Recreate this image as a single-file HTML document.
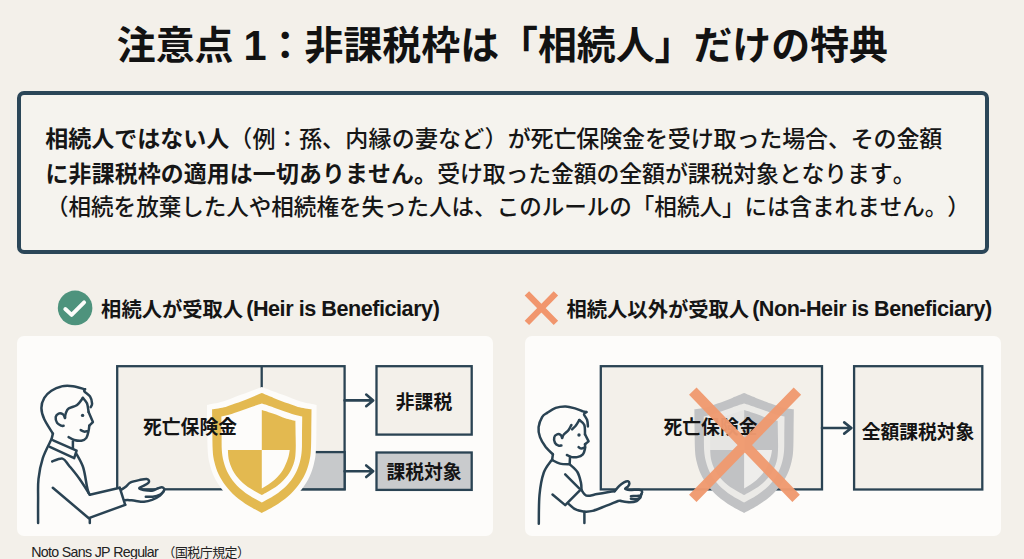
<!DOCTYPE html>
<html lang="ja">
<head>
<meta charset="utf-8">
<title>注意点 1：非課税枠は「相続人」だけの特典</title>
<style>
  html, body { margin: 0; padding: 0; }
  body {
    width: 1024px; height: 559px; overflow: hidden; position: relative;
    background: #f3f0ea;
    font-family: "Liberation Sans", "Noto Sans CJK JP", sans-serif;
    color: #141414;
    text-spacing-trim: space-all; font-kerning: none;
  }
  .abs { position: absolute; white-space: nowrap; }
  #title {
    left: 0; width: 1004.8px; top: 16.3px; height: 58px; line-height: 58px;
    text-align: center; font-size: 38.9px; font-weight: 700; color: #121212;
  }
  #title .one { font-size: 41.6px; position: relative; top: 0.7px; margin: 0 -0.9px 0 -0.9px; }
  #callout {
    left: 17px; top: 91px; width: 964px; height: 155px;
    border: 4px solid #2b4658; border-radius: 7px; background: #f5f3ee;
  }
  .ln { left: 46px; height: 36px; line-height: 36px; font-size: 22.5px; font-weight: 500; color: #161616; }
  .ln b { font-weight: 700; }
  #l1 { top: 120.6px; font-size: 23px; left: 45.3px; }
  #l2 { top: 155.6px; font-size: 22.9px; left: 45.6px; }
  #l3 { top: 189.8px; font-size: 22.54px; }
  .hd { font-size: 20.3px; font-weight: 700; height: 30px; line-height: 30px; top: 294.9px; color: #151515; }
  .en { margin-left: -2.5px; font-size: 21.6px; letter-spacing: -0.46px; position: relative; top: -1px; }
  #h2 .en { letter-spacing: -0.5px; }
  #h1 { left: 101.1px; }
  #h2 { left: 566.5px; }
  .panel { background: #fdfcfa; border-radius: 7px; }
  #p1 { left: 17px; top: 336.4px; width: 475.5px; height: 199.3px; }
  #p2 { left: 525px; top: 336.4px; width: 475.5px; height: 199.3px; }
  .lbl { font-size: 18.8px; font-weight: 700; height: 28px; line-height: 28px; color: #141414; text-align: center; }
  #foot { left: 31.3px; top: 542.4px; font-size: 14.2px; height: 20px; line-height: 20px; color: #222; font-weight: 400; letter-spacing: -0.68px; }
  #foot span { font-size: 12.9px; letter-spacing: -0.5px; margin-left: 4.5px; }
  svg { position: absolute; left: 0; top: 0; }
  #art2 { z-index: 5; }
</style>
</head>
<body>
<div id="title" class="abs">注意点 <span class="one">1</span>：非課税枠は「相続人」だけの特典</div>

<div id="callout" class="abs"></div>
<div id="l1" class="abs ln"><b>相続人ではない人</b><span style="letter-spacing:0.2px">（例：孫、内縁の妻など）</span><span style="letter-spacing:-0.13px">が死亡保険金を受け取った場合、その金額</span></div>
<div id="l2" class="abs ln"><b style="letter-spacing:0.14px">に非課税枠の適用は一切ありません。</b><span style="letter-spacing:-0.115px">受け取った金額の全額が課税対象となります。</span></div>
<div id="l3" class="abs ln">（相続を放棄した人や相続権を失った人は、このルールの「相続人」には含まれません。）</div>

<div id="h1" class="abs hd">相続人が受取人 <span class="en">(Heir is Beneficiary)</span></div>
<div id="h2" class="abs hd">相続人以外が受取人 <span class="en">(Non-Heir is Beneficiary)</span></div>

<div id="p1" class="abs panel"></div>
<div id="p2" class="abs panel"></div>

<svg id="art" width="1024" height="559" viewBox="0 0 1024 559">
  <defs>
    <clipPath id="clipTL"><rect x="200" y="380" width="61.8" height="70"/></clipPath>
    <clipPath id="clipNotTL"><path d="M261.8 380 H340 V530 H200 V450 H261.8 Z"/></clipPath>
  </defs>
  <!-- header icons -->
  <circle cx="75.1" cy="307.9" r="17.3" fill="#4e937d"/>
  <path d="M65.3 309 L71.6 314.9 L84.1 302.3" fill="none" stroke="#fdfdfb" stroke-width="3.9" stroke-linecap="round" stroke-linejoin="round"/>
  <path d="M526.9 293.3 L555.9 322.9 M555.9 293.3 L526.9 322.9" fill="none" stroke="#f1966d" stroke-width="6.2" stroke-linecap="butt"/>

  <!-- LEFT DIAGRAM -->
  <g fill="none" stroke="#2a4353" stroke-width="2.3" stroke-linejoin="miter">
    <rect x="117.2" y="366.2" width="227.4" height="123.1" fill="#f3f0ea"/>
    <rect x="300" y="452.1" width="44.6" height="37.2" fill="#c7c9cb"/>
    <path d="M261.7 366.2 V392"/>
    <path d="M344.6 400.4 H372.6 M366.2 394.6 L373.2 400.4 L366.2 406.2" stroke-width="2.6" stroke-linecap="round" stroke-linejoin="round"/>
    <path d="M344.6 471.2 H372.6 M366.2 465.4 L373.2 471.2 L366.2 477" stroke-width="2.6" stroke-linecap="round" stroke-linejoin="round"/>
    <rect x="376.5" y="366.2" width="95.2" height="68.4" fill="#f3f0ea"/>
    <rect x="376.5" y="452.5" width="95.2" height="37.4" fill="#c9cbcd"/>
  </g>
  <path d="M89.8 494.8 L119.8 487.8 L121.6 489.6 C122.3 489.1 124.6 487.7 126.1 486.5 C127.6 485.3 128.2 483.5 130.6 482.4 C133.0 481.3 137.7 480.4 140.4 479.8 C143.1 479.2 145.3 478.8 146.7 478.9 C148.1 479.0 148.6 479.9 148.9 480.6 C149.2 481.3 149.4 482.0 148.4 482.9 C147.4 483.8 144.6 485.2 143.1 486.0 C141.6 486.8 139.9 487.3 139.5 487.8 C139.1 488.3 139.1 488.7 140.4 489.1 C141.7 489.6 145.4 490.3 147.5 490.5 C149.6 490.7 151.1 490.9 152.9 490.5 C154.7 490.1 156.8 488.7 158.3 488.2 C159.8 487.7 160.9 487.2 161.9 487.3 C162.9 487.4 163.8 488.0 164.1 488.7 C164.4 489.4 163.7 490.9 163.6 491.4 C163.0 492.1 162.0 494.0 160.1 495.4 C158.2 496.8 154.7 498.8 152.0 499.9 C149.3 500.9 146.8 501.5 144.0 501.7 C141.2 501.9 137.7 501.1 135.0 500.8 C132.3 500.5 129.7 500.0 127.9 499.9 C126.1 499.8 124.9 500.2 124.3 500.3 L125.2 504.8 L88.8 518.2 Z" fill="#fdfcfa" stroke="none"/>
  <g id="adult" fill="none" stroke="#2a4353" stroke-width="2.5" stroke-linecap="round" stroke-linejoin="round">
    <path d="M52.9 433.6 C51.5 431.2 46.2 423.6 44.3 419.3 C42.4 415.0 41.4 411.5 41.4 407.9 C41.4 404.3 42.6 400.8 44.3 397.9 C46.0 395.0 48.5 392.6 51.4 390.7 C54.2 388.8 57.8 387.1 61.4 386.4 C65.0 385.6 69.0 385.7 72.9 386.2 C76.8 386.7 83.0 388.8 85.0 389.3"/>
    <path d="M85.0 389.3 C84.9 389.6 83.5 390.2 84.3 391.4 C85.1 392.6 88.7 394.4 90.0 396.4 C91.3 398.4 92.0 401.8 92.1 403.6 C92.2 405.4 90.9 406.5 90.7 407.1"/>
    <path d="M82.9 397.9 C81.9 399.1 79.5 403.2 77.1 405.0 C74.7 406.8 70.5 407.2 68.6 408.6 C66.7 410.0 66.3 412.1 65.7 413.6 C65.1 415.2 65.1 417.2 65.0 417.9"/>
    <path d="M65.0 417.9 C64.7 417.3 64.0 415.0 62.9 414.3 C61.8 413.6 59.8 413.1 58.6 413.6 C57.4 414.1 56.0 415.6 55.7 417.1 C55.5 418.7 56.2 421.5 57.1 422.9 C58.0 424.3 60.3 425.2 61.4 425.7 C62.5 426.2 63.2 425.7 63.6 425.7"/>
    <path d="M82.9 397.9 C83.6 398.8 86.1 401.2 87.1 403.6 C88.0 406.0 88.3 410.7 88.6 412.1"/>
    <path d="M88.6 412.1 L92.9 422.1 L89.3 425.7"/>
    <path d="M89.3 425.7 C89.2 426.5 89.1 428.7 88.6 430.7 C88.1 432.7 87.6 436.2 86.4 437.9 C85.2 439.6 83.4 440.3 81.4 440.7 C79.4 441.1 76.4 440.6 74.3 440.0 C72.2 439.4 69.5 437.6 68.6 437.1"/>
    <path d="M80.7 430.0 C81.2 430.3 82.9 431.4 84.0 431.6 C85.1 431.8 86.8 431.3 87.3 431.2"/>
    <path d="M52.9 433.6 L51.4 439.6"/>
    <path d="M72.9 441.5 L72.9 448.5"/>
    <path d="M53.2 440.3 L76.6 450.6 L74.2 458.2 L49.8 446.9"/>
    <path d="M51.3 439.6 C49.9 442.7 44.9 451.7 42.8 458.2 C40.7 464.7 39.3 471.8 38.5 478.8 C37.7 485.8 38.2 492.6 38.1 500.0 C38.0 507.4 38.1 519.1 38.1 522.9"/>
    <path d="M52.2 461.5 C53.9 461.0 59.7 457.9 62.5 458.6 C65.3 459.3 66.3 462.3 69.1 465.7 C71.9 469.1 76.0 473.9 79.4 478.8 C82.9 483.7 88.1 492.1 89.8 494.8"/>
    <path d="M89.8 494.8 L119.8 487.8"/>
    <path d="M76.2 453.5 C77.4 455.8 81.4 462.0 83.2 467.5 C85.0 473.0 86.0 482.1 86.9 486.3 C87.8 490.6 88.3 491.9 88.6 493.0"/>
    <path d="M52.8 487.8 L88.8 518.2 L125.2 504.8"/>
    <path d="M89.8 518.2 L89.8 522.9"/>
    <path d="M119.8 487.8 L125.2 504.8"/>
    <path d="M121.6 489.6 C122.3 489.1 124.6 487.7 126.1 486.5 C127.6 485.3 128.2 483.5 130.6 482.4 C133.0 481.3 137.7 480.4 140.4 479.8 C143.1 479.2 145.3 478.8 146.7 478.9 C148.1 479.0 148.6 479.9 148.9 480.6 C149.2 481.3 149.4 482.0 148.4 482.9 C147.4 483.8 144.6 485.2 143.1 486.0 C141.6 486.8 139.9 487.3 139.5 487.8 C139.1 488.3 139.1 488.7 140.4 489.1 C141.7 489.6 145.4 490.3 147.5 490.5 C149.6 490.7 151.1 490.9 152.9 490.5 C154.7 490.1 156.8 488.7 158.3 488.2 C159.8 487.7 160.9 487.2 161.9 487.3 C162.9 487.4 163.8 488.0 164.1 488.7 C164.4 489.4 164.3 490.4 163.6 491.4 C162.9 492.4 161.9 493.6 160.1 494.5 C158.3 495.4 155.3 496.3 152.9 496.7 C150.5 497.1 147.0 496.7 145.8 496.7"/>
    <path d="M163.6 491.4 C163.0 492.1 162.0 494.0 160.1 495.4 C158.2 496.8 154.7 498.8 152.0 499.9 C149.3 500.9 146.8 501.5 144.0 501.7 C141.2 501.9 137.7 501.1 135.0 500.8 C132.3 500.5 129.7 500.0 127.9 499.9 C126.1 499.8 124.9 500.2 124.3 500.3"/>
    <circle cx="82.6" cy="415.4" r="1.7" fill="#2a4353" stroke="none"/>
  </g>
  <g id="shieldL">
    <path d="M261.8 387.0 C258.4 388.3 248.0 392.2 241.5 394.6 C235.0 397.0 228.8 399.9 223.0 401.6 C217.2 403.3 209.7 404.4 207.0 405.0 C207.0 409.2 207.1 422.2 207.2 430.0 C207.3 437.8 207.4 446.4 207.8 452.0 C208.2 457.6 208.6 459.4 209.6 463.5 C210.6 467.6 212.0 472.3 214.0 476.5 C216.0 480.7 218.5 484.8 221.5 488.7 C224.5 492.6 227.9 496.6 232.0 500.2 C236.1 503.8 241.0 507.4 246.0 510.5 C251.0 513.6 259.2 517.6 261.8 519.0 C264.4 517.6 272.6 513.6 277.6 510.5 C282.6 507.4 287.5 503.8 291.6 500.2 C295.7 496.6 299.1 492.6 302.1 488.7 C305.1 484.8 307.6 480.7 309.6 476.5 C311.6 472.3 313.0 467.6 314.0 463.5 C315.0 459.4 315.4 457.6 315.8 452.0 C316.2 446.4 316.3 437.8 316.4 430.0 C316.5 422.2 316.6 409.2 316.6 405.0 C313.9 404.4 306.4 403.3 300.6 401.6 C294.9 399.9 288.6 397.0 282.1 394.6 C275.6 392.2 265.2 388.3 261.8 387.0 Z" fill="#fdfcfa"/>
    <path d="M261.8 393.1 C259.8 393.9 254.4 396.1 250.0 397.9 C245.6 399.6 239.2 402.1 235.1 403.6 C231.0 405.1 229.5 405.9 225.7 406.9 C221.9 407.8 214.4 408.9 212.1 409.3 C212.1 412.8 212.2 423.2 212.3 430.0 C212.4 436.8 212.4 444.8 212.7 450.0 C213.0 455.2 213.3 457.3 214.3 461.4 C215.3 465.4 216.7 470.2 218.6 474.3 C220.5 478.4 222.8 482.0 225.7 485.7 C228.5 489.4 231.9 493.1 235.7 496.4 C239.5 499.7 244.2 502.9 248.6 505.7 C252.9 508.4 259.6 511.7 261.8 512.9 C264.0 511.7 270.6 508.4 275.0 505.7 C279.4 502.9 284.1 499.7 287.9 496.4 C291.7 493.1 295.1 489.4 297.9 485.7 C300.8 482.0 303.1 478.4 305.0 474.3 C306.9 470.2 308.3 465.4 309.3 461.4 C310.3 457.3 310.6 455.2 310.9 450.0 C311.2 444.8 311.2 436.8 311.3 430.0 C311.4 423.2 311.5 412.8 311.5 409.3 C309.2 408.9 301.7 407.8 297.9 406.9 C294.1 405.9 292.6 405.1 288.5 403.6 C284.4 402.1 278.1 399.6 273.6 397.9 C269.2 396.1 263.8 393.9 261.8 393.1 Z" fill="#e3b950"/>
    <path d="M261.8 403.6 C259.8 404.2 254.2 406.0 250.0 407.4 C245.8 408.8 240.0 411.0 236.5 412.2 C233.0 413.4 231.5 414.0 229.0 414.7 C226.5 415.4 222.7 416.1 221.4 416.4 C221.4 419.5 221.5 429.4 221.6 435.0 C221.7 440.6 221.5 445.6 221.8 450.0 C222.1 454.4 222.5 457.3 223.6 461.4 C224.7 465.4 226.3 470.2 228.6 474.3 C230.8 478.4 233.8 482.2 237.1 485.7 C240.4 489.1 244.5 492.2 248.6 495.0 C252.7 497.8 259.6 501.3 261.8 502.6 C264.0 501.3 270.9 497.8 275.0 495.0 C279.1 492.2 283.2 489.1 286.5 485.7 C289.8 482.2 292.8 478.4 295.0 474.3 C297.2 470.2 298.9 465.4 300.0 461.4 C301.1 457.3 301.5 454.4 301.8 450.0 C302.1 445.6 301.9 440.6 302.0 435.0 C302.1 429.4 302.2 419.5 302.2 416.4 C300.9 416.1 297.1 415.4 294.6 414.7 C292.1 414.0 290.6 413.4 287.1 412.2 C283.6 411.0 277.8 408.8 273.6 407.4 C269.4 406.0 263.8 404.2 261.8 403.6 Z" fill="#fdfcfa"/>
    <path d="M261.8 410.0 C259.8 410.6 253.9 412.4 250.0 413.8 C246.1 415.2 242.1 417.0 238.5 418.2 C234.9 419.4 229.9 420.4 228.2 420.8 C228.2 423.2 228.1 430.1 228.0 435.0 C227.9 439.9 227.7 445.6 227.9 450.0 C228.1 454.4 228.2 457.6 229.3 461.4 C230.4 465.2 232.0 469.3 234.3 472.9 C236.6 476.5 239.8 480.0 242.9 482.9 C246.0 485.8 249.8 488.0 252.9 490.0 C256.1 492.0 260.3 494.2 261.8 495.0 C263.3 494.2 267.6 492.0 270.7 490.0 C273.9 488.0 277.6 485.8 280.7 482.9 C283.8 480.0 287.0 476.5 289.3 472.9 C291.6 469.3 293.2 465.2 294.3 461.4 C295.4 457.6 295.5 454.4 295.7 450.0 C295.9 445.6 295.7 439.9 295.6 435.0 C295.6 430.1 295.4 423.2 295.4 420.8 C293.7 420.4 288.7 419.4 285.1 418.2 C281.5 417.0 277.5 415.2 273.6 413.8 C269.7 412.4 263.8 410.6 261.8 410.0 Z" fill="#e3b950" clip-path="url(#clipNotTL)"/>
    <path d="M261.8 450 L289.7 450 C289.3 453 288.9 455.6 287.9 458.6 C286.6 462.6 285 466.4 282.9 470 C280.6 473.8 277.6 477.1 274.3 480 C270.6 483.2 266.3 486 261.8 488.6 Z" fill="#fdfcfa"/>
  </g>

  <!-- RIGHT DIAGRAM -->
  <g fill="none" stroke="#2a4353" stroke-width="2.3" stroke-linejoin="miter">
    <rect x="600.8" y="366.2" width="221.2" height="123.2" fill="#f3f0ea"/>
    <rect x="854.1" y="366.2" width="128.2" height="123.3" fill="#f3f0ea"/>
    <path d="M822 428 H851 M844.2 422.4 L851.4 428 L844.2 433.6" stroke-width="2.6" stroke-linecap="round" stroke-linejoin="round"/>
  </g>
  <g id="shieldR" transform="translate(482.3 0)">
    <path d="M261.8 393.1 C259.8 393.9 254.4 396.1 250.0 397.9 C245.6 399.6 239.2 402.1 235.1 403.6 C231.0 405.1 229.5 405.9 225.7 406.9 C221.9 407.8 214.4 408.9 212.1 409.3 C212.1 412.8 212.2 423.2 212.3 430.0 C212.4 436.8 212.4 444.8 212.7 450.0 C213.0 455.2 213.3 457.3 214.3 461.4 C215.3 465.4 216.7 470.2 218.6 474.3 C220.5 478.4 222.8 482.0 225.7 485.7 C228.5 489.4 231.9 493.1 235.7 496.4 C239.5 499.7 244.2 502.9 248.6 505.7 C252.9 508.4 259.6 511.7 261.8 512.9 C264.0 511.7 270.6 508.4 275.0 505.7 C279.4 502.9 284.1 499.7 287.9 496.4 C291.7 493.1 295.1 489.4 297.9 485.7 C300.8 482.0 303.1 478.4 305.0 474.3 C306.9 470.2 308.3 465.4 309.3 461.4 C310.3 457.3 310.6 455.2 310.9 450.0 C311.2 444.8 311.2 436.8 311.3 430.0 C311.4 423.2 311.5 412.8 311.5 409.3 C309.2 408.9 301.7 407.8 297.9 406.9 C294.1 405.9 292.6 405.1 288.5 403.6 C284.4 402.1 278.1 399.6 273.6 397.9 C269.2 396.1 263.8 393.9 261.8 393.1 Z" fill="#c1c2c4"/>
    <path d="M261.8 403.6 C259.8 404.2 254.2 406.0 250.0 407.4 C245.8 408.8 240.0 411.0 236.5 412.2 C233.0 413.4 231.5 414.0 229.0 414.7 C226.5 415.4 222.7 416.1 221.4 416.4 C221.4 419.5 221.5 429.4 221.6 435.0 C221.7 440.6 221.5 445.6 221.8 450.0 C222.1 454.4 222.5 457.3 223.6 461.4 C224.7 465.4 226.3 470.2 228.6 474.3 C230.8 478.4 233.8 482.2 237.1 485.7 C240.4 489.1 244.5 492.2 248.6 495.0 C252.7 497.8 259.6 501.3 261.8 502.6 C264.0 501.3 270.9 497.8 275.0 495.0 C279.1 492.2 283.2 489.1 286.5 485.7 C289.8 482.2 292.8 478.4 295.0 474.3 C297.2 470.2 298.9 465.4 300.0 461.4 C301.1 457.3 301.5 454.4 301.8 450.0 C302.1 445.6 301.9 440.6 302.0 435.0 C302.1 429.4 302.2 419.5 302.2 416.4 C300.9 416.1 297.1 415.4 294.6 414.7 C292.1 414.0 290.6 413.4 287.1 412.2 C283.6 411.0 277.8 408.8 273.6 407.4 C269.4 406.0 263.8 404.2 261.8 403.6 Z" fill="#ebeae7"/>
    <path d="M261.8 410.0 C259.8 410.6 253.9 412.4 250.0 413.8 C246.1 415.2 242.1 417.0 238.5 418.2 C234.9 419.4 229.9 420.4 228.2 420.8 C228.2 423.2 228.1 430.1 228.0 435.0 C227.9 439.9 227.7 445.6 227.9 450.0 C228.1 454.4 228.2 457.6 229.3 461.4 C230.4 465.2 232.0 469.3 234.3 472.9 C236.6 476.5 239.8 480.0 242.9 482.9 C246.0 485.8 249.8 488.0 252.9 490.0 C256.1 492.0 260.3 494.2 261.8 495.0 C263.3 494.2 267.6 492.0 270.7 490.0 C273.9 488.0 277.6 485.8 280.7 482.9 C283.8 480.0 287.0 476.5 289.3 472.9 C291.6 469.3 293.2 465.2 294.3 461.4 C295.4 457.6 295.5 454.4 295.7 450.0 C295.9 445.6 295.7 439.9 295.6 435.0 C295.6 430.1 295.4 423.2 295.4 420.8 C293.7 420.4 288.7 419.4 285.1 418.2 C281.5 417.0 277.5 415.2 273.6 413.8 C269.7 412.4 263.8 410.6 261.8 410.0 Z" fill="#c1c2c4" clip-path="url(#clipNotTL)"/>
    <path d="M261.8 410.0 C259.8 410.6 253.9 412.4 250.0 413.8 C246.1 415.2 242.1 417.0 238.5 418.2 C234.9 419.4 229.9 420.4 228.2 420.8 C228.2 423.2 228.1 430.1 228.0 435.0 C227.9 439.9 227.7 445.6 227.9 450.0 C228.1 454.4 228.2 457.6 229.3 461.4 C230.4 465.2 232.0 469.3 234.3 472.9 C236.6 476.5 239.8 480.0 242.9 482.9 C246.0 485.8 249.8 488.0 252.9 490.0 C256.1 492.0 260.3 494.2 261.8 495.0 C263.3 494.2 267.6 492.0 270.7 490.0 C273.9 488.0 277.6 485.8 280.7 482.9 C283.8 480.0 287.0 476.5 289.3 472.9 C291.6 469.3 293.2 465.2 294.3 461.4 C295.4 457.6 295.5 454.4 295.7 450.0 C295.9 445.6 295.7 439.9 295.6 435.0 C295.6 430.1 295.4 423.2 295.4 420.8 C293.7 420.4 288.7 419.4 285.1 418.2 C281.5 417.0 277.5 415.2 273.6 413.8 C269.7 412.4 263.8 410.6 261.8 410.0 Z" fill="#e6e5e3" clip-path="url(#clipTL)"/>
    <path d="M261.8 450 L289.7 450 C289.3 453 288.9 455.6 287.9 458.6 C286.6 462.6 285 466.4 282.9 470 C280.6 473.8 277.6 477.1 274.3 480 C270.6 483.2 266.3 486 261.8 488.6 Z" fill="#eeedeb"/>
  </g>
  <path d="M614.7 491.2 C615.5 490.3 617.8 487.4 619.3 485.9 C620.8 484.4 622.5 483.2 624.0 482.4 C625.5 481.6 627.1 481.1 628.0 481.3 C628.9 481.5 629.4 482.7 629.4 483.6 C629.4 484.5 628.7 485.6 628.0 486.5 C627.3 487.4 624.8 488.2 625.1 488.8 C625.4 489.4 627.5 489.9 629.8 490.0 C632.1 490.1 637.1 489.5 639.1 489.7 C641.1 489.9 641.6 490.5 642.0 491.2 C642.4 491.9 641.5 493.6 641.4 494.1 C641.2 494.7 641.0 496.5 640.2 497.6 C639.4 498.8 638.4 500.2 636.7 501.0 C635.0 501.8 632.5 502.2 629.8 502.2 C627.1 502.2 622.0 501.2 620.5 501.0 L606.5 505.7 L597.2 494.1 Z" fill="#fdfcfa" stroke="none"/>
  <g id="child" fill="none" stroke="#2a4353" stroke-width="2.5" stroke-linecap="round" stroke-linejoin="round">
    <path d="M552.9 454.3 C551.7 453.1 547.9 450.0 545.7 447.1 C543.6 444.2 541.2 440.4 540.0 437.1 C538.8 433.8 538.2 430.4 538.6 427.1 C539.0 423.8 540.7 419.5 542.1 417.1 C543.5 414.7 544.8 414.4 547.1 412.9 C549.4 411.4 552.6 409.0 555.7 407.9 C558.8 406.8 562.4 406.3 565.7 406.4 C569.0 406.5 572.8 407.8 575.7 408.6 C578.6 409.4 581.1 410.8 582.9 411.4 C584.7 412.0 585.8 412.0 586.4 412.1"/>
    <path d="M586.4 412.1 C586.0 412.5 583.9 413.0 584.0 414.3 C584.1 415.6 586.5 418.0 587.1 420.0 C587.8 422.0 587.8 425.3 587.9 426.4"/>
    <path d="M579.3 420.0 C578.7 420.9 576.9 424.1 575.7 425.7 C574.5 427.2 572.7 428.7 572.1 429.3"/>
    <path d="M571.4 425.0 C570.9 425.8 569.8 428.4 568.6 430.0 C567.4 431.6 565.1 433.0 564.0 434.3 C562.9 435.6 562.4 437.3 562.1 437.9"/>
    <path d="M562.1 437.9 C561.9 437.4 561.5 435.6 560.7 435.0 C559.9 434.4 558.2 433.9 557.1 434.3 C556.0 434.7 554.6 435.7 554.3 437.1 C553.9 438.5 554.3 441.5 555.0 442.9 C555.7 444.3 557.5 445.3 558.6 445.7 C559.7 446.1 560.9 445.4 561.4 445.4"/>
    <path d="M579.3 420.0 C580.1 420.8 583.3 422.6 584.3 425.0 C585.2 427.4 584.9 432.8 585.0 434.3"/>
    <path d="M585.0 434.3 L588.6 441.4 L585.0 444.3"/>
    <path d="M585.0 444.3 C585.0 445.0 585.4 446.9 585.0 448.6 C584.6 450.3 584.2 452.9 582.9 454.3 C581.6 455.7 579.0 456.7 577.1 457.1 C575.2 457.5 573.1 457.2 571.4 456.9 C569.7 456.5 567.6 455.3 566.9 455.0"/>
    <path d="M578.6 447.1 C579.1 447.4 580.3 448.6 581.4 448.6 C582.5 448.7 584.4 447.6 585.0 447.4"/>
    <path d="M552.9 454.3 L552.1 460.0"/>
    <path d="M570.0 457.1 L569.7 463.5"/>
    <path d="M552.1 460.0 C553.4 460.6 557.1 462.9 560.0 463.6 C562.9 464.3 568.1 464.2 569.7 464.3"/>
    <path d="M551.3 460.5 C550.0 462.5 545.8 466.8 543.8 472.5 C541.8 478.2 540.3 486.4 539.5 495.0 C538.7 503.6 538.9 519.0 538.8 523.8"/>
    <path d="M570.0 464.5 C571.2 465.8 575.6 469.0 577.4 472.0 C579.2 475.0 580.2 479.4 580.9 482.4 C581.6 485.4 581.4 488.7 581.5 490.0"/>
    <path d="M565.2 474.3 L579.2 488.3"/>
    <path d="M580.9 489.4 L565.2 505.1 L552.5 494.5"/>
    <path d="M581.5 490.0 C582.0 490.7 583.3 493.1 584.4 494.1 C585.5 495.1 585.8 495.8 587.9 495.8 C590.0 495.8 593.7 494.7 597.2 494.1 C600.7 493.5 605.9 492.5 608.8 492.0 C611.7 491.5 613.7 491.3 614.7 491.2"/>
    <path d="M614.7 491.2 C615.5 490.3 617.8 487.4 619.3 485.9 C620.8 484.4 622.5 483.2 624.0 482.4 C625.5 481.6 627.1 481.1 628.0 481.3 C628.9 481.5 629.4 482.7 629.4 483.6 C629.4 484.5 628.7 485.6 628.0 486.5 C627.3 487.4 624.8 488.2 625.1 488.8 C625.4 489.4 627.5 489.9 629.8 490.0 C632.1 490.1 637.1 489.5 639.1 489.7 C641.1 489.9 641.6 490.5 642.0 491.2 C642.4 491.9 641.9 493.3 641.4 494.1 C640.9 494.9 640.9 495.5 639.1 495.8 C637.4 496.1 632.3 496.1 630.9 496.2"/>
    <path d="M641.4 494.1 C641.2 494.7 641.0 496.7 640.2 497.6 C639.4 498.5 638.2 499.1 636.7 499.3 C635.2 499.5 631.9 498.8 630.9 498.7"/>
    <path d="M640.2 497.6 C639.6 498.2 638.4 500.2 636.7 501.0 C635.0 501.8 632.5 502.2 629.8 502.2 C627.1 502.2 622.0 501.2 620.5 501.0"/>
    <path d="M568.1 503.4 C569.3 504.4 572.6 507.8 575.1 509.2 C577.6 510.6 580.4 511.2 583.3 511.5 C586.2 511.8 588.7 511.9 592.6 510.9 C596.5 509.9 602.2 507.3 606.5 505.7 C610.8 504.1 615.8 501.8 618.1 501.0 C620.4 500.2 620.1 500.8 620.5 500.8"/>
    <path d="M584.4 512.1 L584.4 523.1"/>
    <circle cx="579.0" cy="435.0" r="1.7" fill="#2a4353" stroke="none"/>
  </g>
</svg>

<div id="t1" class="abs lbl" style="left:140px; width:100px; top:413.5px;">死亡保険金</div>
<div id="t2" class="abs lbl" style="left:376.5px; width:95px; top:388.5px;">非課税</div>
<div id="t3" class="abs lbl" style="left:376.5px; width:95px; top:459.1px;">課税対象</div>
<div id="t4" class="abs lbl" style="left:660.5px; width:100px; top:413.5px;">死亡保険金</div>
<div id="t5" class="abs lbl" style="left:853px; width:130px; top:419.2px;">全額課税対象</div>

<svg id="art2" width="1024" height="559" viewBox="0 0 1024 559">
  <path d="M692.8 391.1 L796.1 498.4 M797.4 391.1 L692.8 498.4" fill="none" stroke="#f09a70" stroke-width="10.4" stroke-linecap="butt" opacity="0.97"/>
</svg>

<div id="foot" class="abs">Noto Sans JP Regular<span>（国税庁規定）</span></div>
</body>
</html>
